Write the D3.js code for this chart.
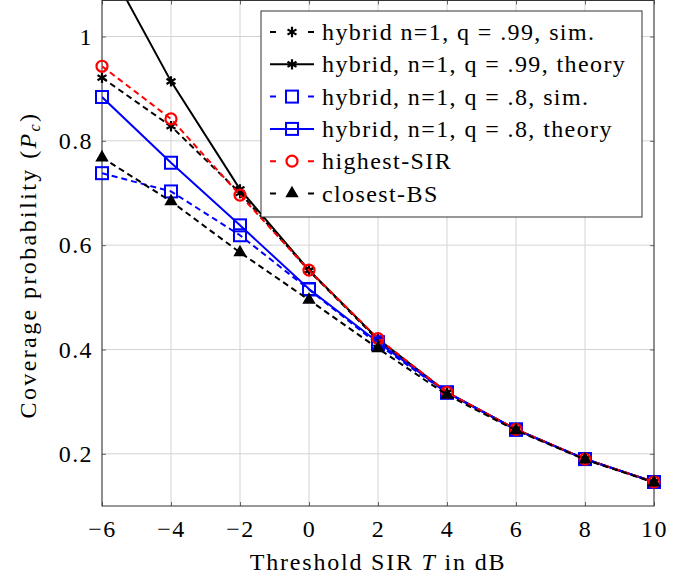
<!DOCTYPE html>
<html>
<head>
<meta charset="utf-8">
<script src="https://cdn.jsdelivr.net/npm/d3@7"></script>
<style>
  body { margin: 0; background: #fff; }
</style>
</head>
<body>
<div id="chart"></div>
<script>
// SIR threshold in dB
const thresholds = [-6, -4, -2, 0, 2, 4, 6, 8, 10];

// coverage probability values
const hybrid99Sim    = [0.921, 0.828, 0.700, 0.551, 0.418, 0.317, 0.247, 0.190, 0.146];
const hybrid99Theory = [1.157, 0.914, 0.707, 0.552, 0.420, 0.318, 0.247, 0.190, 0.146];
const hybrid8Sim     = [0.738, 0.703, 0.619, 0.515, 0.410, 0.317, 0.246, 0.190, 0.146];
const hybrid8Theory  = [0.884, 0.758, 0.638, 0.516, 0.414, 0.318, 0.247, 0.190, 0.146];
const highestSIR     = [0.943, 0.842, 0.696, 0.552, 0.421, 0.318, 0.247, 0.190, 0.146];
const closestBS      = [0.768, 0.684, 0.586, 0.495, 0.402, 0.313, 0.245, 0.189, 0.145];

const legendLabels = [
  'hybrid n=1, q = .99, sim.',
  'hybrid, n=1, q = .99, theory',
  'hybrid, n=1, q = .8, sim.',
  'hybrid, n=1, q = .8, theory',
  'highest-SIR',
  'closest-BS'
];

const xTicks = [-6, -4, -2, 0, 2, 4, 6, 8, 10];
const yTicks = [0.2, 0.4, 0.6, 0.8, 1];

const series = [
  { values: hybrid99Sim,    color: '#000', dashed: true,  marker: 'star' },
  { values: hybrid99Theory, color: '#000', dashed: false, marker: 'star' },
  { values: hybrid8Sim,     color: '#00f', dashed: true,  marker: 'square' },
  { values: hybrid8Theory,  color: '#00f', dashed: false, marker: 'square' },
  { values: highestSIR,     color: '#f00', dashed: true,  marker: 'circle' },
  { values: closestBS,      color: '#000', dashed: true,  marker: 'triangle' }
];

const width = 694;
const height = 581;
const margin = {top: 0.5, right: 40, bottom: 75, left: 102};
const plotW = width - margin.left - margin.right;
const plotH = height - margin.top - margin.bottom;
const fontFamily = '"Liberation Serif", "Times New Roman", serif';
const fontSize = '24px';

const svg = d3.select('#chart')
  .append('svg')
    .attr('width', width)
    .attr('height', height);

const plot = svg.append('g')
  .attr('transform', `translate(${margin.left}, ${margin.top})`);

const xScale = d3.scaleLinear()
  .domain([-6, 10])
  .range([0, plotW]);
const yScale = d3.scaleLinear()
  .domain([0.1, 1.069])
  .range([plotH, 0]);

// grid
plot.append('g')
  .selectAll('line')
  .data(xTicks)
  .join('line')
    .attr('x1', d => xScale(d)).attr('x2', d => xScale(d))
    .attr('y1', 0).attr('y2', plotH)
    .attr('stroke', '#d3d3d3').attr('stroke-width', 1);
plot.append('g')
  .selectAll('line')
  .data(yTicks)
  .join('line')
    .attr('x1', 0).attr('x2', plotW)
    .attr('y1', d => yScale(d)).attr('y2', d => yScale(d))
    .attr('stroke', '#d3d3d3').attr('stroke-width', 1);

// axes with inner ticks
const fmtX = d => d < 0 ? '\u2212' + Math.abs(d) : String(d);
const fmtY = d => d === 1 ? '1' : d3.format('.1f')(d);

const xAxis = plot.append('g')
  .attr('transform', `translate(0, ${plotH})`)
  .call(d3.axisBottom(xScale).tickValues(xTicks).tickFormat(fmtX).tickSizeInner(-4).tickSizeOuter(0).tickPadding(14));
const yAxis = plot.append('g')
  .call(d3.axisLeft(yScale).tickValues(yTicks).tickFormat(fmtY).tickSizeInner(-4).tickSizeOuter(0).tickPadding(9));
plot.append('g')
  .attr('transform', `translate(${plotW}, 0)`)
  .call(d3.axisRight(yScale).tickValues(yTicks).tickFormat('').tickSizeInner(-4).tickSizeOuter(0));
plot.append('g')
  .call(d3.axisTop(xScale).tickValues(xTicks).tickFormat('').tickSizeInner(-4).tickSizeOuter(0));

plot.selectAll('.domain').remove();
plot.selectAll('.tick line').attr('stroke', '#666');
xAxis.selectAll('.tick text').attr('dy', '0.71em');

plot.append('rect')
  .attr('width', plotW).attr('height', plotH)
  .attr('fill', 'none').attr('stroke', '#333').attr('stroke-width', 1);

// axis titles
const xTitle = svg.append('text')
  .attr('x', margin.left + plotW / 2)
  .attr('y', 570)
  .attr('text-anchor', 'middle');
xTitle.append('tspan').text('Threshold SIR ');
xTitle.append('tspan').style('font-style', 'italic').text('T');
xTitle.append('tspan').text(' in dB');

const yTitle = svg.append('text')
  .attr('transform', 'translate(36, 265) rotate(-90)')
  .attr('text-anchor', 'middle');
yTitle.append('tspan').text('Coverage probability (');
yTitle.append('tspan').style('font-style', 'italic').text('P');
yTitle.append('tspan').style('font-style', 'italic').style('font-size', '16px').attr('dy', 4).text('c');
yTitle.append('tspan').attr('dy', -4).text(')');

// markers
function drawMarker(g, type, color) {
  if (type === 'star') {
    g.append('path')
      .attr('d', d3.symbol(d3.symbolAsterisk, 75)())
      .attr('fill', 'none').attr('stroke', color).attr('stroke-width', 2.2);
  } else if (type === 'square') {
    g.append('rect')
      .attr('x', -6).attr('y', -6).attr('width', 12).attr('height', 12)
      .attr('fill', 'none').attr('stroke', color).attr('stroke-width', 2);
  } else if (type === 'circle') {
    g.append('circle')
      .attr('r', 5.5)
      .attr('fill', 'none').attr('stroke', color).attr('stroke-width', 2.2);
  } else if (type === 'triangle') {
    g.append('path')
      .attr('d', d3.symbol(d3.symbolTriangle, 50)())
      .attr('fill', color).attr('stroke', color).attr('stroke-width', 1.5);
  }
}

plot.append('clipPath').attr('id', 'clip')
  .append('rect').attr('width', plotW).attr('height', plotH);

const line = d3.line()
  .x((d, i) => xScale(thresholds[i]))
  .y(d => yScale(d));

series.forEach(s => {
  plot.append('path')
    .datum(s.values)
    .attr('clip-path', 'url(#clip)')
    .attr('fill', 'none')
    .attr('stroke', s.color)
    .attr('stroke-width', 2)
    .attr('stroke-dasharray', s.dashed ? '6,4' : null)
    .attr('d', line);
  s.values.forEach((v, i) => {
    const g = plot.append('g')
      .attr('transform', `translate(${xScale(thresholds[i])}, ${yScale(v)})`);
    drawMarker(g, s.marker, s.color);
  });
});

// legend
const legend = svg.append('g').attr('transform', 'translate(261, 11)');
legend.append('rect')
  .attr('width', 381).attr('height', 206)
  .attr('fill', '#fff').attr('stroke', '#333').attr('stroke-width', 1);

series.forEach((s, i) => {
  const row = legend.append('g').attr('transform', `translate(0, ${21 + i * 32.3})`);
  row.append('line')
    .attr('x1', 9).attr('x2', 53)
    .attr('stroke', s.color).attr('stroke-width', 2)
    .attr('stroke-dasharray', s.dashed ? '6,32' : null);
  drawMarker(row.append('g').attr('transform', 'translate(31, 0)'), s.marker, s.color);
  row.append('text')
    .attr('x', 61).attr('y', 8)
    .text(legendLabels[i]);
});

// shared text style, set inline on every text node
svg.selectAll('text')
  .style('font-family', fontFamily)
  .style('font-size', fontSize)
  .style('fill', '#000')
  .style('letter-spacing', '1.4px');
xTitle.style('letter-spacing', '1.8px');
yTitle.style('letter-spacing', '2.4px');
</script>
</body>
</html>
